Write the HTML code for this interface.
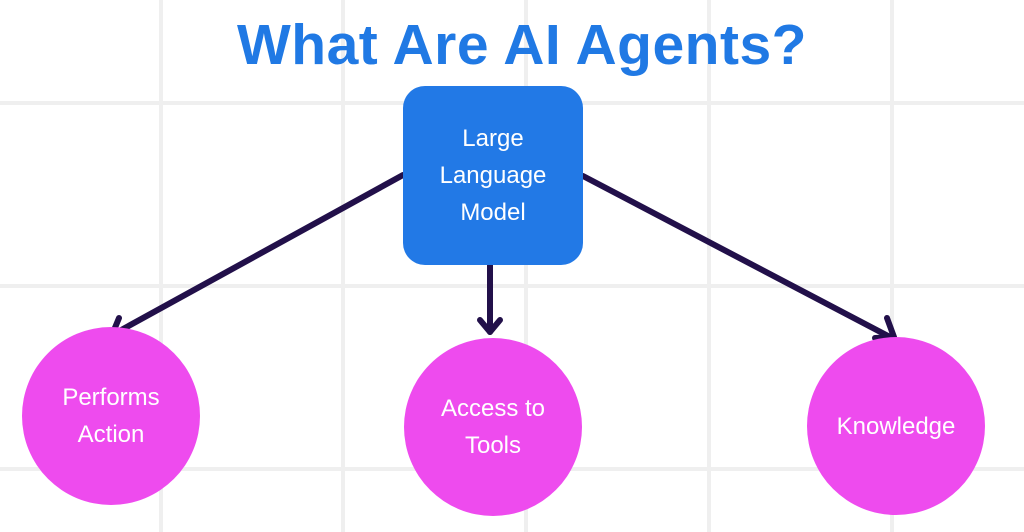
<!DOCTYPE html>
<html><head><meta charset="utf-8"><style>
html,body{margin:0;padding:0;background:#fff}
body{width:1024px;height:532px;position:relative;overflow:hidden;font-family:"Liberation Sans",sans-serif}
.v{position:absolute;top:0;width:4px;height:532px;background:#efefef}
.h{position:absolute;left:0;height:4px;width:1024px;background:#efefef}
.t{position:absolute;left:0;width:1044px;top:12px;text-align:center;font-weight:bold;font-size:57px;color:#2079e4;letter-spacing:0.5px}
.box{position:absolute;left:403px;top:86px;width:180px;height:179px;background:#2279e6;border-radius:22px;color:#fff;font-size:24px;line-height:37px;text-align:center;display:flex;align-items:center;justify-content:center}
.c{position:absolute;width:178px;height:178px;border-radius:50%;background:#ee4bee;color:#fff;font-size:24px;line-height:37px;text-align:center;display:flex;align-items:center;justify-content:center}
svg{position:absolute;left:0;top:0}
</style></head><body>
<div class="v" style="left:159px"></div><div class="v" style="left:341px"></div><div class="v" style="left:524px"></div><div class="v" style="left:707px"></div><div class="v" style="left:890px"></div>
<div class="h" style="top:101px"></div><div class="h" style="top:284px"></div><div class="h" style="top:467px"></div>
<div class="t">What Are AI Agents?</div>
<svg width="1024" height="532"><g stroke="#22104a" stroke-width="6" fill="none" stroke-linecap="round" stroke-linejoin="round">
<line x1="403" y1="175" x2="114" y2="334"/><polyline points="119,318 112,335 130,337"/>
<line x1="490" y1="265" x2="490" y2="332"/><polyline points="480,320 490,332 500,320"/>
<line x1="583" y1="176" x2="890" y2="337"/><polyline points="887,318 894,337 875,338"/>
</g></svg>
<div class="box">Large<br>Language<br>Model</div>
<div class="c" style="left:22px;top:327px">Performs<br>Action</div>
<div class="c" style="left:404px;top:338px">Access to<br>Tools</div>
<div class="c" style="left:807px;top:337px">Knowledge</div>
</body></html>
